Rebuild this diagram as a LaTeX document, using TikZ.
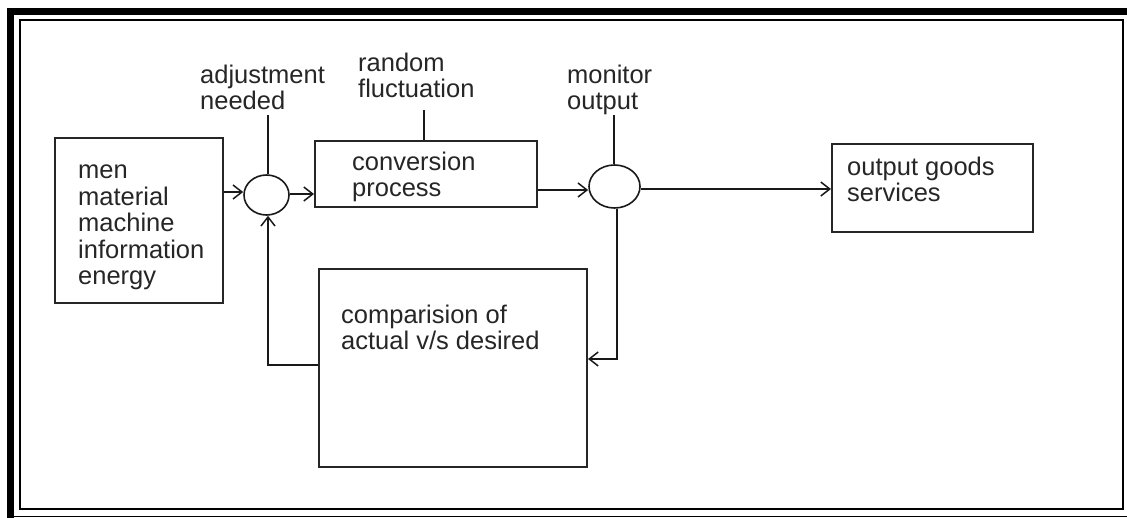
\documentclass[tikz,border=0pt]{standalone}
\usepackage{fontspec}
\setmainfont{Liberation Sans}
\usetikzlibrary{arrows.meta,shapes.geometric}

\tikzset{
  blk/.style={draw=black!85, line width=2pt, rectangle, inner sep=0pt},
  junction/.style={draw=black!90, line width=1.6pt, ellipse, inner sep=0pt,
    minimum width=45pt, minimum height=40pt},
  % base anchor of a multi-line label sits on its last line
  lbl/.style={inner sep=0pt, anchor=base west, align=left, text=black!85,
    font=\fontsize{25.5}{26.5}\selectfont},
  link/.style={line width=1.8pt, draw=black!90},
  flow/.style={link, -{Straight Barb[length=9pt,width=14pt,line width=1.5pt]}}
}

\begin{document}
\begin{tikzpicture}[x=1pt, y=-1pt]
  \useasboundingbox (0,0) rectangle (1127,518);
  \fill[white] (0,0) rectangle (1127,518);

  % page frame: heavy top and left rules, thin bottom rule, inner border
  \fill[black] (7,8) rectangle (1127,15);
  \fill[black] (7,8) rectangle (14,518);
  \draw[line width=1.2pt] (14,516.5) -- (1127,516.5);
  \draw[line width=1.3pt] (20,20) rectangle (1123,509);

  % blocks
  \node[blk, minimum width=168pt, minimum height=165pt] (inputs) at (139,220.5) {};
  \node[blk, minimum width=222pt, minimum height=66pt] (conv) at (426,174) {};
  \node[blk, minimum width=201pt, minimum height=88pt] (outbox) at (932.5,188) {};
  \node[blk, minimum width=268pt, minimum height=198pt] (compare) at (453,368) {};

  % summing / take-off points
  \node[junction] (adj) at (266.5,195) {};
  \node[junction, minimum width=51pt, minimum height=43pt] (mon) at (614.5,186.5) {};

  % texts inside blocks
  \node[lbl] (inputstxt) at (78,285) {men\\material\\machine\\information\\energy};
  \node[lbl] (convtxt) at (352,197) {conversion\\process};
  \node[lbl] (outtxt) at (847,202) {output goods\\services};
  \node[lbl] (comptxt) at (341,350) {comparision of\\actual v/s desired};

  % signal labels
  \node[lbl] (adjlbl) at (200,110) {adjustment\\needed};
  \node[lbl] (rndlbl) at (358,98) {random\\fluctuation};
  \node[lbl] (monlbl) at (567,110) {monitor\\output};

  % label leads
  \coordinate (adjtop) at (268,115);
  \coordinate (rndtop) at (424,110);
  \coordinate (montop) at (614,115);
  \draw[link] (adjtop) -- (adjtop |- adj.north);
  \draw[link] (rndtop) -- (rndtop |- conv.north);
  \draw[link] (montop) -- (montop |- mon.north);

  % forward path
  \draw[flow] (inputs.east |- 0,192) -- (adj.west |- 0,192);
  \draw[flow] (adj.east |- 0,194) -- (conv.west |- 0,194);
  \draw[flow] (conv.east |- 0,190) -- (mon.west |- 0,190);
  \draw[flow] (mon.east |- 0,189) -- (outbox.west |- 0,189);

  % feedback loop
  \coordinate (tapdown) at (617,359);
  \coordinate (fbcorner) at (268,365);
  \draw[flow] (mon.south -| tapdown) -- (tapdown) -- (compare.east |- tapdown);
  \draw[flow] (compare.west |- fbcorner) -- (fbcorner) -- (fbcorner |- adj.south);
\end{tikzpicture}
\end{document}
